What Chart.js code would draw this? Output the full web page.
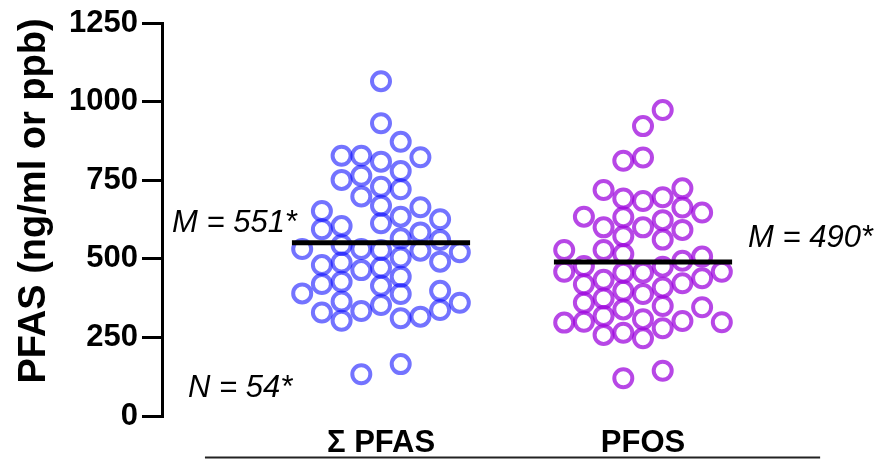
<!DOCTYPE html>
<html><head><meta charset="utf-8">
<script src="https://cdn.jsdelivr.net/npm/chart.js@4.4.0/dist/chart.umd.min.js"></script>
<style>html,body{margin:0;padding:0;background:#fff}#wrap{width:875px;height:459px}</style>
</head><body><div id="wrap"><canvas id="c" width="875" height="459"></canvas></div>
<script>
// ---- data ----
const categories = ['\u03A3 PFAS', 'PFOS'];
const yTicks = [0, 250, 500, 750, 1000, 1250];
const yTitle = 'PFAS (ng/ml or ppb)';
const sumPfasValues = [1065, 931, 872, 828, 828, 823, 809, 779, 751, 764, 729, 721, 698, 669, 664, 652, 634, 626, 613, 604, 594,
  584, 565, 560, 531, 544, 531, 528, 526, 521, 480, 488, 464, 472, 504, 491, 443, 420, 427, 414, 390, 388, 398, 364, 353, 360,
  329, 334, 337, 303, 311, 316, 165, 133];
const sumPfasCols = [0, 0, 1, -2, -1, 2, 0, 1, -2, -1, 0, 1, -1, 0, 2, -3, 1, 3, 0, -2, -3,
  2, 1, 3, -4, -2, -1, 0, 2, 4, -3, -2, -1, 0, 1, 3, 1, -3, -2, 0, -4, 1, 3, -2, 0, 4,
  -3, -1, 3, -2, 1, 2, 1, -1];
const pfosValues = [973, 922, 812, 822, 719, 692, 684, 696, 724, 663, 647, 634, 600, 632, 600, 623, 592, 572, 561,
  528, 528, 515, 477, 475, 494, 507, 459, 433, 456, 456, 459, 419, 398, 388, 409, 422, 438, 360, 374, 339, 350, 346,
  297, 300, 318, 308, 302, 298, 258, 265, 279, 247, 120, 144];
const pfosCols = [1, 0, -1, 0, -2, -1, 0, 1, 2, 2, 3, -3, -2, -1, 0, 1, 2, -1, 1,
  -4, -2, -1, -3, 1, 2, 3, -4, -2, -1, 0, 4, -3, -1, 0, 1, 2, 3, -3, -2, -1, 1, 3,
  -4, -3, -2, 0, 2, 4, -2, -1, 1, 0, -1, 1];
const medians = [551, 490];
const notes = ['M = 551*', 'M = 490*', 'N = 54*'];

// ---- layout constants ----
const COL_STEP = 0.0752;   // swarm column spacing in category units
const MED_HALF = 0.34;     // half-width of median bar in category units
const FONT = '"Liberation Sans", Arial, Helvetica, sans-serif';

function swarm(values, cols, cat) {
  return values.map((v, i) => ({x: cat + cols[i] * COL_STEP, y: v}));
}
function medianLine(cat) {
  return [{x: cat - MED_HALF, y: medians[cat - 1]}, {x: cat + MED_HALF, y: medians[cat - 1]}];
}

const decor = {
  id: 'decor',
  afterDraw(chart) {
    const ctx = chart.ctx;
    const xs = chart.scales.x;
    const ys = chart.scales.y;
    ctx.save();
    // bottom axis rule
    ctx.strokeStyle = '#222';
    ctx.lineWidth = 2;
    ctx.beginPath();
    ctx.moveTo(xs.getPixelForValue(0.328), 457.5);
    ctx.lineTo(xs.getPixelForValue(2.676), 457.5);
    ctx.stroke();
    // y-axis title
    ctx.fillStyle = '#000';
    ctx.save();
    ctx.translate(45, 201);
    ctx.rotate(-Math.PI / 2);
    ctx.font = 'bold 38px ' + FONT;
    ctx.textAlign = 'center';
    ctx.textBaseline = 'alphabetic';
    ctx.fillText(yTitle, 0, 0);
    ctx.restore();
    // annotations
    ctx.font = 'italic 31px ' + FONT;
    ctx.textBaseline = 'middle';
    ctx.textAlign = 'left';
    ctx.fillText(notes[0], 172, 223);
    ctx.fillText(notes[1], 748, 238);
    ctx.fillText(notes[2], 188, 388);
    ctx.restore();
  }
};

new Chart(document.getElementById('c'), {
  type: 'scatter',
  data: {
    datasets: [
      {label: 'median sum', type: 'line', data: medianLine(1), borderColor: '#000', borderWidth: 5,
       pointRadius: 0, showLine: true, order: 0},
      {label: 'median pfos', type: 'line', data: medianLine(2), borderColor: '#000', borderWidth: 5,
       pointRadius: 0, showLine: true, order: 0},
      {label: categories[0], data: swarm(sumPfasValues, sumPfasCols, 1), pointRadius: 9, pointBorderWidth: 4,
       pointBackgroundColor: 'rgba(0,0,0,0)', pointBorderColor: 'rgba(0,0,255,0.55)', order: 1},
      {label: categories[1], data: swarm(pfosValues, pfosCols, 2), pointRadius: 9, pointBorderWidth: 4,
       pointBackgroundColor: 'rgba(0,0,0,0)', pointBorderColor: 'rgba(155,0,220,0.72)', order: 1}
    ]
  },
  options: {
    responsive: false,
    animation: false,
    devicePixelRatio: 1,
    layout: {padding: {top: 23, right: 15, bottom: 0, left: 0}},
    plugins: {legend: {display: false}, tooltip: {enabled: false}},
    scales: {
      x: {
        type: 'linear', min: 0.1641, max: 2.8282,
        grid: {display: false, drawTicks: false},
        border: {display: false},
        afterBuildTicks: (axis) => { axis.ticks = [{value: 1}, {value: 2}]; },
        afterFit: (scale) => { scale.height = 43; },
        ticks: {
          color: '#000', padding: 9, maxRotation: 0, autoSkip: false,
          font: {family: FONT, size: 31, weight: 'bold'},
          callback: (v) => categories[Math.round(v) - 1]
        }
      },
      y: {
        min: 0, max: 1250,
        afterBuildTicks: (axis) => { axis.ticks = yTicks.map(v => ({value: v})); },
        afterFit: (scale) => { scale.width = 162; },
        grid: {drawOnChartArea: false, drawTicks: true, tickLength: 20, lineWidth: 3, color: '#000'},
        border: {display: true, width: 3, color: '#000'},
        ticks: {color: '#000', padding: 4, font: {family: FONT, size: 31, weight: 'bold'},
                callback: (v) => String(v)},
        title: {display: false}
      }
    }
  },
  plugins: [decor]
});
</script>
</body></html>
